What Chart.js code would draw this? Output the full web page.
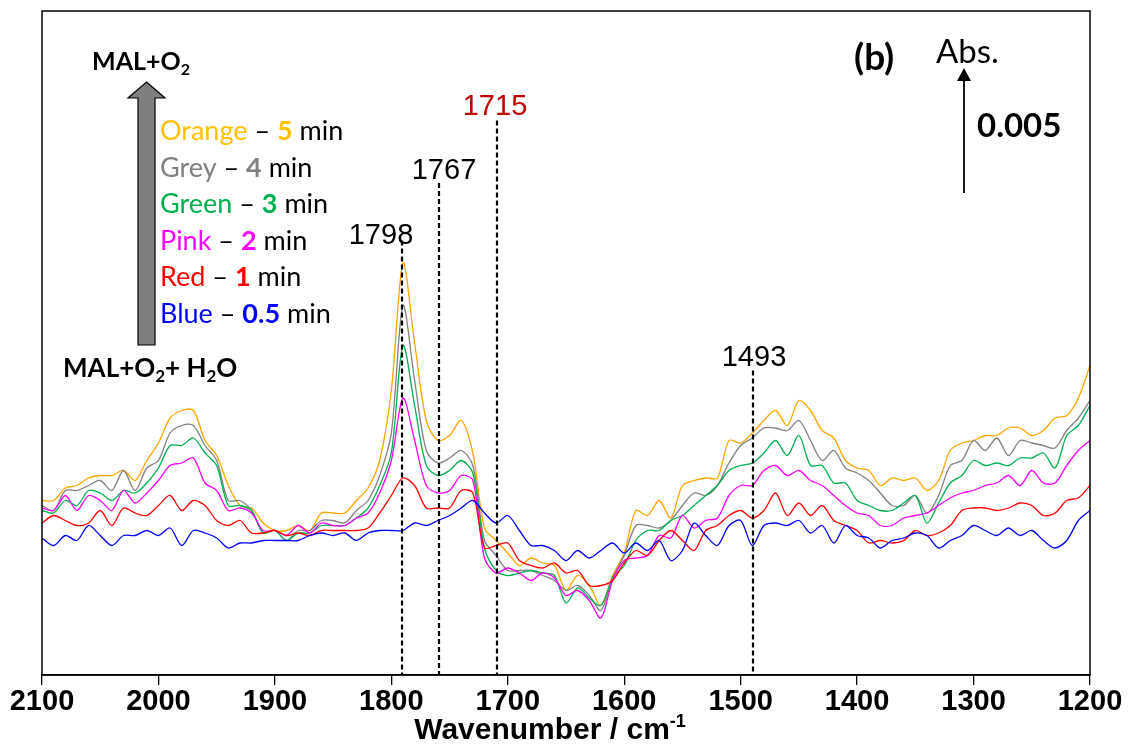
<!DOCTYPE html>
<html>
<head>
<meta charset="utf-8">
<script src="https://cdn.jsdelivr.net/npm/chart.js@4.4.0/dist/chart.umd.min.js"></script>
<style>
  html, body { margin: 0; padding: 0; background: #fff; }
  #wrap { width: 1134px; height: 747px; }
</style>
</head>
<body>
<div id="wrap"><canvas id="irChart" width="1134" height="747"></canvas></div>
<script>
// wavenumber grid, cm-1
const wavenumbers = [
  2100, 2090, 2080, 2070, 2060, 2050, 2040, 2030, 2020, 2010,
  2000, 1990, 1980, 1970, 1960, 1950, 1940, 1930, 1920, 1910,
  1900, 1890, 1880, 1870, 1860, 1850, 1840, 1830, 1820, 1810,
  1800, 1790, 1780, 1770, 1760, 1750, 1740, 1730, 1720, 1710,
  1700, 1690, 1680, 1670, 1660, 1650, 1640, 1630, 1620, 1610,
  1600, 1590, 1580, 1570, 1560, 1550, 1540, 1530, 1520, 1510,
  1500, 1490, 1480, 1470, 1460, 1450, 1440, 1430, 1420, 1410,
  1400, 1390, 1380, 1370, 1360, 1350, 1340, 1330, 1320, 1310,
  1300, 1290, 1280, 1270, 1260, 1250, 1240, 1230, 1220, 1210,
  1200
];

// absorbance, units of 1e-4 Abs (arbitrary offset)
const orange5 = [
  69, 69, 74, 75, 78, 79, 79, 81, 77, 85,
  92, 102, 105, 105, 93, 87, 75, 67, 66, 60,
  57, 57, 59, 57, 64, 64, 64, 69, 74, 85,
  113, 164, 132, 101, 93, 95, 101, 88, 58, 53,
  48, 43, 46, 44, 43, 33, 39, 35, 27, 39,
  48, 65, 63, 69, 62, 75, 77, 78, 78, 93,
  92, 96, 101, 105, 99, 109, 105, 97, 94, 85,
  82, 81, 75, 78, 77, 78, 73, 77, 89, 92,
  93, 95, 95, 98, 98, 95, 97, 102, 103, 110,
  123
];
const grey4 = [
  67, 65, 73, 73, 75, 77, 73, 81, 73, 82,
  85, 96, 99, 99, 91, 85, 69, 69, 65, 56,
  57, 53, 57, 57, 61, 61, 60, 65, 69, 79,
  96, 147, 117, 89, 84, 86, 89, 83, 53, 47,
  41, 41, 41, 39, 37, 33, 35, 31, 25, 38,
  47, 59, 59, 58, 61, 67, 72, 71, 75, 84,
  91, 94, 98, 98, 97, 101, 93, 85, 89, 82,
  80, 77, 72, 67, 67, 71, 64, 71, 83, 85,
  93, 89, 94, 87, 93, 92, 91, 90, 97, 102,
  109
];
const green3 = [
  65, 64, 69, 67, 73, 72, 69, 73, 72, 76,
  82, 91, 91, 94, 88, 83, 67, 67, 65, 56,
  57, 53, 56, 56, 59, 59, 59, 62, 66, 75,
  88, 131, 107, 83, 79, 81, 85, 80, 50, 41,
  39, 40, 41, 40, 39, 28, 34, 30, 27, 38,
  43, 53, 57, 57, 61, 63, 67, 71, 75, 81,
  83, 84, 88, 93, 87, 95, 83, 83, 76, 76,
  69, 67, 65, 65, 68, 71, 60, 68, 76, 79,
  85, 83, 84, 83, 86, 86, 88, 82, 95, 99,
  107
];
const pink2 = [
  66, 65, 71, 65, 71, 69, 65, 73, 68, 72,
  77, 83, 84, 86, 76, 73, 65, 66, 64, 57,
  57, 55, 59, 56, 60, 59, 59, 62, 64, 72,
  85, 110, 93, 75, 72, 73, 79, 77, 46, 40,
  42, 40, 37, 40, 38, 31, 33, 29, 22, 37,
  45, 46, 47, 55, 54, 63, 58, 61, 62, 71,
  75, 75, 81, 83, 79, 81, 77, 75, 71, 67,
  64, 63, 59, 59, 62, 63, 64, 67, 70, 72,
  73, 75, 76, 79, 75, 81, 76, 76, 83, 89,
  93
];
const red1 = [
  60, 63, 61, 59, 60, 65, 59, 66, 64, 63,
  67, 71, 65, 69, 67, 61, 59, 61, 56, 56,
  57, 55, 56, 55, 57, 57, 57, 57, 58, 64,
  71, 78, 75, 66, 66, 66, 73, 72, 50, 51,
  52, 45, 43, 42, 44, 40, 41, 35, 35, 37,
  44, 49, 47, 53, 57, 53, 49, 57, 59, 63,
  65, 62, 65, 72, 63, 68, 63, 67, 61, 59,
  57, 52, 53, 52, 53, 57, 55, 56, 59, 65,
  66, 66, 65, 66, 68, 67, 63, 64, 69, 70,
  75
];
const blue05 = [
  54, 51, 55, 53, 59, 55, 51, 55, 55, 57,
  55, 58, 51, 57, 56, 54, 50, 52, 52, 53,
  53, 53, 53, 55, 56, 55, 56, 53, 56, 57,
  57, 57, 60, 59, 61, 63, 66, 69, 64, 60,
  63, 57, 51, 51, 49, 45, 49, 46, 49, 52,
  48, 52, 49, 53, 45, 49, 60, 55, 51, 59,
  61, 51, 59, 60, 59, 61, 56, 59, 52, 59,
  55, 54, 50, 53, 54, 56, 55, 50, 53, 55,
  59, 57, 55, 58, 55, 57, 53, 50, 53, 61,
  65
];

// band markers: where the dashed line sits, its label, and where it starts (same units as y)
const markerPos = [1791, 1759, 1709, 1489];
const markerText = ['1798', '1767', '1715', '1493'];
const markerTop = [173, 196, 221, 121];

// scale bar, 0.005 Abs = 50 units
const scaleBarBase = 192;
const scaleBarSize = 50;

const xTicks = [2100, 2000, 1900, 1800, 1700, 1600, 1500, 1400, 1300, 1200];

function pts(arr) {
    return wavenumbers.map((w, i) => ({ x: w, y: arr[i] }));
}

// draws a string made of pieces: [text, font, color, dy]
function drawParts(ctx, x, y, parts) {
    parts.forEach(p => {
        ctx.font = p[1];
        ctx.fillStyle = p[2];
        ctx.fillText(p[0], x, y + (p[3] || 0));
        x += ctx.measureText(p[0]).width;
    });
    return x;
}

const overlay = {
    id: 'overlay',
    afterDatasetsDraw(chart) {
        const ctx = chart.ctx;
        const a = chart.chartArea;
        const xs = chart.scales.x;
        const ys = chart.scales.y;
        ctx.save();

        // frame
        ctx.strokeStyle = '#000';
        ctx.lineWidth = 1.5;
        ctx.strokeRect(a.left, a.top, a.right - a.left, a.bottom - a.top);

        // dashed band markers + labels
        const labOff = [[-21, 3], [5, -4], [-2, -6], [1, -5]];
        markerPos.forEach((w, i) => {
            const x = Math.round(xs.getPixelForValue(w));
            const top = ys.getPixelForValue(markerTop[i]);
            ctx.setLineDash([5, 3]);
            ctx.lineWidth = 2.2;
            ctx.strokeStyle = '#000';
            ctx.beginPath();
            ctx.moveTo(x, top);
            ctx.lineTo(x, a.bottom);
            ctx.stroke();
            ctx.setLineDash([]);
            ctx.font = '29px "Liberation Sans", Arial, sans-serif';
            ctx.fillStyle = i === 2 ? '#C00000' : '#000';
            ctx.textAlign = 'center';
            ctx.textBaseline = 'alphabetic';
            ctx.fillText(markerText[i], x + labOff[i][0], top + labOff[i][1]);
        });
        ctx.textAlign = 'left';

        // scale bar
        const bx = 964;
        const y0 = ys.getPixelForValue(scaleBarBase);
        const y1 = ys.getPixelForValue(scaleBarBase + scaleBarSize);
        ctx.lineWidth = 1.8;
        ctx.beginPath();
        ctx.moveTo(bx, y0);
        ctx.lineTo(bx, y1 + 10);
        ctx.stroke();
        ctx.fillStyle = '#000';
        ctx.beginPath();
        ctx.moveTo(bx, y1);
        ctx.lineTo(bx - 7, y1 + 13);
        ctx.lineTo(bx + 7, y1 + 13);
        ctx.closePath();
        ctx.fill();
        ctx.font = 'bold 33px Lato, "Noto Sans", sans-serif';
        ctx.fillText('0.005', 977, 137);
        ctx.font = '33px Lato, "Noto Sans", sans-serif';
        ctx.fillText('Abs.', 936, 63);
        ctx.font = 'bold 37px Lato, "Noto Sans", sans-serif';
        ctx.fillText('(b)', 854, 70);

        // time arrow
        ctx.fillStyle = '#7F7F7F';
        ctx.strokeStyle = '#000';
        ctx.lineWidth = 1.2;
        ctx.beginPath();
        ctx.moveTo(146.5, 82);
        ctx.lineTo(165, 98);
        ctx.lineTo(155, 98);
        ctx.lineTo(155, 345);
        ctx.lineTo(138, 345);
        ctx.lineTo(138, 98);
        ctx.lineTo(128, 98);
        ctx.closePath();
        ctx.fill();
        ctx.stroke();

        const fb = 'bold 25px Lato, "Noto Sans", sans-serif';
        const fbs = 'bold 16px Lato, "Noto Sans", sans-serif';
        drawParts(ctx, 92, 70, [['MAL+O', fb, '#000'], ['2', fbs, '#000', 5]]);
        const fb2 = 'bold 26px Lato, "Noto Sans", sans-serif';
        const fbs2 = 'bold 17px Lato, "Noto Sans", sans-serif';
        drawParts(ctx, 63, 377, [['MAL+O', fb2, '#000'], ['2', fbs2, '#000', 5], ['+ H', fb2, '#000'],
            ['2', fbs2, '#000', 5], ['O', fb2, '#000']]);

        // legend text
        const fn = '27px Lato, "Noto Sans", sans-serif';
        const fnb = 'bold 27px Lato, "Noto Sans", sans-serif';
        const entries = [
            ['Orange', '5', '#FFC000'],
            ['Grey', '4', '#808080'],
            ['Green', '3', '#00B050'],
            ['Pink', '2', '#FF00FF'],
            ['Red', '1', '#FF0000'],
            ['Blue', '0.5', '#0000FF']
        ];
        entries.forEach((e, i) => {
            drawParts(ctx, 160, 140 + i * 36.5, [[e[0], fn, e[2]], [' \u2013 ', fn, '#000'],
                [e[1], fnb, e[2]], [' min', fn, '#000']]);
        });

        // x axis title with superscript
        const ft = 'bold 30px "Liberation Sans", Arial, sans-serif';
        const fts = 'bold 18px "Liberation Sans", Arial, sans-serif';
        ctx.font = ft;
        const w1 = ctx.measureText('Wavenumber / cm').width;
        ctx.font = fts;
        const w2 = ctx.measureText('-1').width;
        drawParts(ctx, 550 - (w1 + w2) / 2, 739, [['Wavenumber / cm', ft, '#000'], ['-1', fts, '#000', -12]]);

        ctx.restore();
    }
};

function line(label, arr, color) {
    return {
        label: label,
        data: pts(arr),
        borderColor: color,
        borderWidth: 1.3,
        pointRadius: 0,
        tension: 0.3,
        fill: false
    };
}

const ctx = document.getElementById('irChart').getContext('2d');
const irChart = new Chart(ctx, {
    type: 'line',
    data: {
        datasets: [
            line('Blue - 0.5 min', blue05, '#0000FF'),
            line('Red - 1 min', red1, '#FF0000'),
            line('Pink - 2 min', pink2, '#FF00FF'),
            line('Green - 3 min', green3, '#00B050'),
            line('Grey - 4 min', grey4, '#808080'),
            line('Orange - 5 min', orange5, '#FFA500')
        ]
    },
    options: {
        responsive: false,
        animation: false,
        layout: { padding: { left: 42, right: 44, top: 11, bottom: 0 } },
        plugins: {
            legend: { display: false },
            tooltip: { enabled: false }
        },
        scales: {
            x: {
                type: 'linear',
                reverse: true,
                min: 1200,
                max: 2100,
                afterBuildTicks: (s) => { s.ticks = xTicks.map(v => ({ value: v })); },
                afterFit: (s) => { s.height = 72; },
                ticks: {
                    color: '#000',
                    padding: 0,
                    maxRotation: 0,
                    autoSkip: false,
                    callback: (v) => String(v),
                    font: { family: '"Liberation Sans", Arial, sans-serif', weight: 'bold', size: 29 }
                },
                grid: {
                    drawOnChartArea: false,
                    drawTicks: true,
                    tickLength: 10,
                    color: '#000',
                    lineWidth: 1.3
                },
                border: { display: true, color: '#000', width: 1.5 }
            },
            y: {
                display: false,
                min: -0.8,
                max: 264.8
            }
        }
    },
    plugins: [overlay]
});
</script>
</body>
</html>
